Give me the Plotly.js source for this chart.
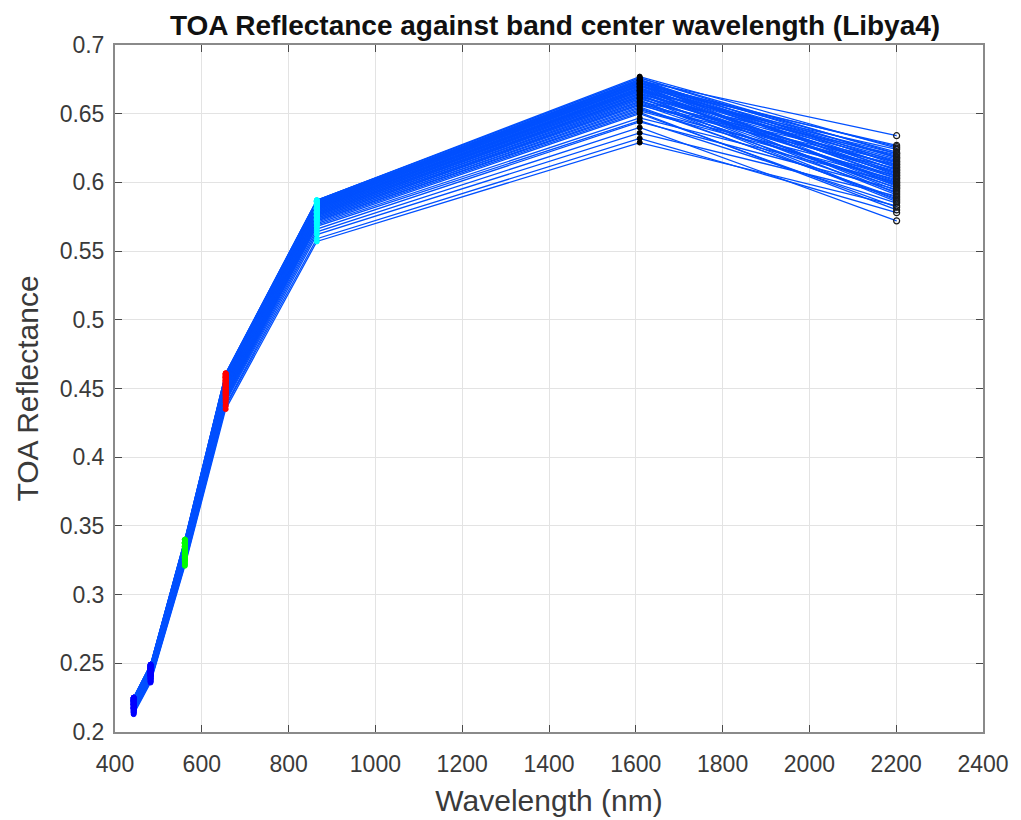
<!DOCTYPE html>
<html>
<head>
<meta charset="utf-8">
<script src="https://cdn.plot.ly/plotly-3.0.1.min.js"></script>
<style>html,body{margin:0;padding:0;background:#fff;}</style>
</head>
<body>
<div id="chart" style="width:1021px;height:820px;"></div>
<script>
// Band centre wavelengths (nm)
var wavelengths = [443, 482, 561, 655, 865, 1609, 2201];
// Marker colours per band
var bandColors = ['#0000ff', '#0000ff', '#00ff00', '#ff0000', '#00ffff', '#000000', '#000000'];

// TOA reflectance per band, one entry per observation
var band1 = [0.213,0.214,0.214,0.215,0.215,0.216,0.216,0.217,0.217,0.217,0.218,0.218,0.218,0.219,0.219,0.219,0.220,0.220,0.220,0.220,0.221,0.221,0.221,0.221,0.222,0.222,0.222,0.222,0.223,0.223,0.223,0.223,0.224,0.224,0.224,0.224,0.224,0.225,0.225,0.225,
             0.216,0.217,0.217,0.218,0.218,0.219,0.220,0.220,0.221,0.221,0.222,0.222,0.222,0.223,0.223,0.224,0.224,0.224,0.225,0.223];
var band2 = [0.236,0.237,0.237,0.238,0.238,0.239,0.239,0.240,0.240,0.241,0.241,0.241,0.242,0.242,0.242,0.243,0.243,0.243,0.244,0.244,0.244,0.245,0.245,0.245,0.245,0.246,0.246,0.246,0.246,0.247,0.247,0.247,0.247,0.248,0.248,0.248,0.248,0.249,0.249,0.249,
             0.239,0.240,0.241,0.241,0.242,0.243,0.243,0.244,0.244,0.245,0.246,0.246,0.246,0.247,0.247,0.248,0.248,0.248,0.249,0.247];
var band3 = [0.321,0.322,0.323,0.324,0.325,0.325,0.326,0.327,0.327,0.328,0.328,0.329,0.329,0.330,0.330,0.331,0.331,0.332,0.332,0.332,0.333,0.333,0.334,0.334,0.334,0.335,0.335,0.336,0.336,0.336,0.337,0.337,0.337,0.338,0.338,0.338,0.339,0.339,0.340,0.340,
             0.326,0.327,0.328,0.329,0.330,0.331,0.332,0.333,0.333,0.334,0.335,0.335,0.336,0.337,0.337,0.338,0.338,0.339,0.340,0.337];
var band4 = [0.435,0.437,0.438,0.440,0.441,0.442,0.443,0.444,0.446,0.445,0.446,0.447,0.448,0.449,0.448,0.449,0.450,0.451,0.450,0.451,0.452,0.453,0.452,0.453,0.454,0.455,0.454,0.455,0.456,0.457,0.456,0.457,0.458,0.458,0.459,0.460,0.459,0.460,0.461,0.461,
             0.443,0.445,0.446,0.447,0.448,0.450,0.450,0.452,0.453,0.454,0.455,0.456,0.456,0.457,0.458,0.459,0.459,0.460,0.461,0.458];
var band5 = [0.557,0.559,0.562,0.564,0.566,0.568,0.569,0.571,0.572,0.573,0.574,0.574,0.575,0.576,0.576,0.577,0.577,0.578,0.578,0.579,0.579,0.580,0.580,0.581,0.581,0.581,0.582,0.582,0.583,0.583,0.583,0.584,0.584,0.585,0.585,0.585,0.586,0.586,0.587,0.587,
             0.570,0.572,0.573,0.575,0.576,0.577,0.578,0.579,0.580,0.581,0.582,0.582,0.583,0.584,0.584,0.585,0.586,0.586,0.587,0.585];
var band6 = [0.629,0.632,0.636,0.640,0.644,0.645,0.647,0.651,0.653,0.655,0.656,0.657,0.658,0.659,0.660,0.661,0.662,0.663,0.663,0.664,0.665,0.665,0.666,0.667,0.667,0.668,0.668,0.669,0.670,0.670,0.671,0.671,0.672,0.672,0.673,0.673,0.674,0.675,0.676,0.677,
             0.650,0.652,0.654,0.657,0.659,0.661,0.662,0.664,0.666,0.667,0.668,0.669,0.670,0.671,0.672,0.673,0.674,0.675,0.676,0.674];
var band7 = [0.583,0.578,0.590,0.572,0.595,0.585,0.600,0.580,0.605,0.588,0.610,0.593,0.598,0.615,0.586,0.603,0.620,0.596,0.608,0.591,0.612,0.601,0.624,0.594,0.606,0.617,0.599,0.611,0.627,0.603,0.614,0.597,0.619,0.607,0.622,0.609,0.634,0.613,0.618,0.625,
             0.582,0.602,0.589,0.613,0.596,0.607,0.587,0.616,0.600,0.621,0.604,0.592,0.618,0.609,0.626,0.598,0.615,0.605,0.621,0.611];

var yTickVals = [0.2,0.25,0.3,0.35,0.4,0.45,0.5,0.55,0.6,0.65,0.7];
var yTickText = ['0.2','0.25','0.3','0.35','0.4','0.45','0.5','0.55','0.6','0.65','0.7'];
var xTickVals = [400,600,800,1000,1200,1400,1600,1800,2000,2200,2400];

var bands = [band1, band2, band3, band4, band5, band6, band7];
var traces = [];
var n = band1.length;
for (var i = 0; i < n; i++) {
  traces.push({
    x: wavelengths,
    y: bands.map(function (b) { return b[i]; }),
    type: 'scatter', mode: 'lines',
    line: {color: '#0050ff', width: 1.3},
    hoverinfo: 'skip', showlegend: false
  });
}
for (var k = 0; k < bands.length; k++) {
  var xs = bands[k].map(function () { return wavelengths[k]; });
  var open = (k === 6);
  traces.push({
    x: xs, y: bands[k], type: 'scatter', mode: 'markers', showlegend: false,
    marker: open ? {symbol: 'circle-open', size: 6, color: '#1a1a1a', line: {width: 1.2, color: '#1a1a1a'}}
                 : {symbol: 'circle', size: 5, color: bandColors[k], line: {width: 1, color: bandColors[k]}}
  });
}

var axisCommon = {
  showline: true, mirror: 'allticks', linecolor: '#8a8a8a', linewidth: 2,
  ticks: 'inside', ticklen: 7, tickcolor: '#4a4a4a', tickwidth: 1,
  showgrid: true, gridcolor: '#e3e3e3', gridwidth: 1, zeroline: false,
  tickfont: {family: 'Liberation Sans, Arial, sans-serif', size: 23, color: '#3a3a3a'}
};

var layout = {
  width: 1021, height: 820,
  margin: {l: 115, r: 38, t: 45, b: 88},
  paper_bgcolor: '#ffffff', plot_bgcolor: '#ffffff',
  title: {text: '<b>TOA Reflectance against band center wavelength (Libya4)</b>',
    font: {family: 'Liberation Sans, Arial, sans-serif', size: 28, color: '#111'},
    xref: 'paper', x: 0.507, xanchor: 'center', yref: 'container', y: 0.969, yanchor: 'middle'},
  xaxis: Object.assign({}, axisCommon, {
    range: [400, 2400], tickvals: xTickVals, ticktext: xTickVals.map(String),
    ticklabelstandoff: 10,
    title: {text: 'Wavelength (nm)', standoff: 14,
      font: {family: 'Liberation Sans, Arial, sans-serif', size: 30, color: '#3a3a3a'}}
  }),
  yaxis: Object.assign({}, axisCommon, {
    range: [0.2, 0.7], tickvals: yTickVals, ticktext: yTickText,
    ticklabelstandoff: 4,
    title: {text: 'TOA Reflectance', standoff: 12,
      font: {family: 'Liberation Sans, Arial, sans-serif', size: 30, color: '#3a3a3a'}}
  })
};

Plotly.newPlot('chart', traces, layout, {displayModeBar: false, staticPlot: true});
</script>
</body>
</html>
